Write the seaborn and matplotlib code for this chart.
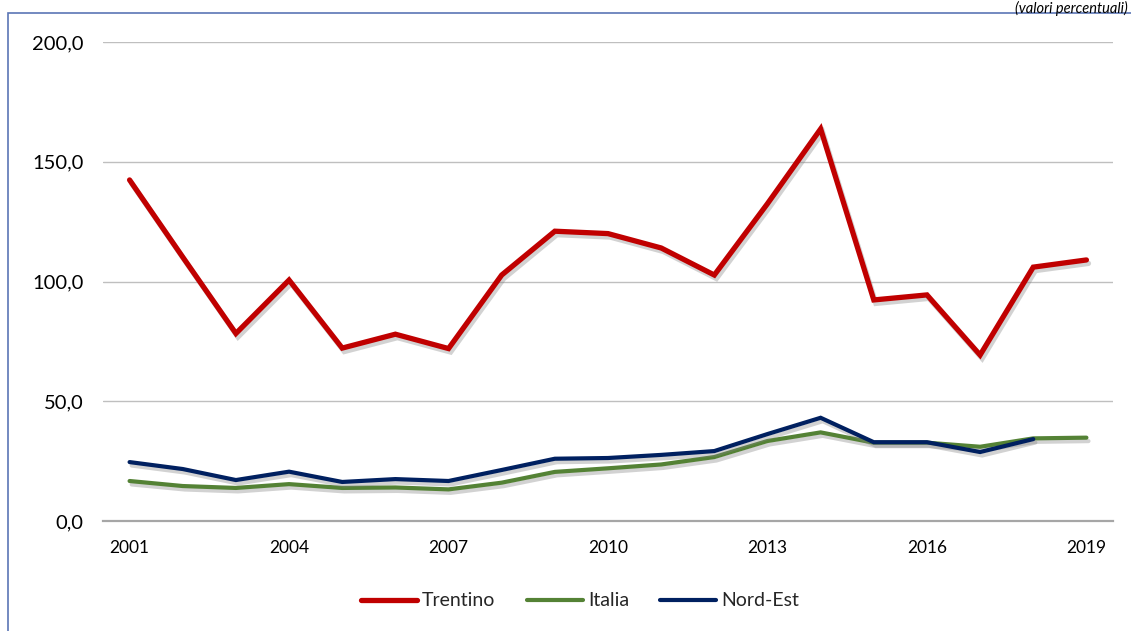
import numpy as np
import pandas as pd
import matplotlib
matplotlib.use("Agg")
import matplotlib.pyplot as plt
import matplotlib.patheffects as pe
from matplotlib.patches import Rectangle
from matplotlib.lines import Line2D
from matplotlib.ticker import FuncFormatter, FixedLocator
import seaborn as sns

years = list(range(2001, 2020))
trentino = [142.4, 110.2, 78.3, 100.6, 72.2, 78.0, 72.0, 102.7, 121.0, 120.0,
            114.0, 102.7, 132.5, 163.7, 92.3, 94.4, 69.3, 106.0, 109.0]
italia = [16.7, 14.6, 13.8, 15.4, 13.8, 14.0, 13.2, 16.0, 20.5, 22.0,
          23.6, 26.7, 33.4, 37.0, 32.7, 32.7, 31.0, 34.5, 34.8]
nord_est = [24.6, 21.7, 17.1, 20.6, 16.3, 17.5, 16.7, 21.3, 26.0, 26.3,
            27.6, 29.2, 36.3, 43.1, 32.9, 32.9, 28.8, 34.2, np.nan]
series_names = ["Trentino", "Italia", "Nord-Est"]
colors = ["#C00000", "#548235", "#002060"]
y_ticks = [0, 50, 100, 150, 200]
x_label_years = [2001, 2004, 2007, 2010, 2013, 2016, 2019]
subtitle = "(valori percentuali)"

df = pd.concat([
    pd.DataFrame({"anno": years, "valore": vals, "serie": name})
    for name, vals in zip(series_names, [trentino, italia, nord_est])
]).dropna()

sns.set_theme(style="white")
plt.rcParams["font.family"] = ["Lato", "DejaVu Sans"]

W, H = 1131, 631
fig = plt.figure(figsize=(W / 100, H / 100), dpi=100)
ax = fig.add_axes([103 / W, 1 - 521 / H, (1113 - 103) / W, (521 - 42) / H])

sns.lineplot(data=df, x="anno", y="valore", hue="serie", hue_order=series_names,
             palette=colors, ax=ax, sort=False, legend=False)

widths = [3.8, 3.0, 3.0]
for line, lw in zip(ax.get_lines(), widths):
    line.set_linewidth(lw)
    line.set_solid_capstyle("round")
    line.set_solid_joinstyle("miter")
    line.set_path_effects([pe.SimpleLineShadow(offset=(1.5, -2.5), shadow_color="#808080", alpha=0.35),
                           pe.Normal()])

ax.set_xlim(2000.5, 2019.5)
ax.set_ylim(0, 200)
ax.set_xlabel("")
ax.set_ylabel("")

ax.yaxis.set_major_locator(FixedLocator(y_ticks))
ax.yaxis.set_major_formatter(FuncFormatter(lambda v, p: f"{v:.1f}".replace(".", ",")))
ax.xaxis.set_major_locator(FixedLocator(x_label_years))
ax.xaxis.set_minor_locator(FixedLocator(np.arange(2000.5, 2020.0, 1.0)))
ax.xaxis.set_major_formatter(FuncFormatter(lambda v, p: f"{int(v)}"))

ax.grid(axis="y", color="#BFBFBF", linewidth=1.0)
ax.grid(axis="x", visible=False)
ax.set_axisbelow(True)
for s in ["top", "right", "left"]:
    ax.spines[s].set_visible(False)
ax.spines["bottom"].set_color("#A6A6A6")
ax.spines["bottom"].set_linewidth(1.6)

ax.tick_params(axis="y", length=0, pad=14, labelsize=14.5, labelcolor="black")
ax.tick_params(axis="x", which="major", length=0, pad=14, labelsize=12.5, labelcolor="black")
ax.tick_params(axis="x", which="minor", length=6, width=1.6, color="#A6A6A6", direction="out")

handles = [Line2D([0], [0], color=c, lw=lw, solid_capstyle="round") for c, lw in zip(colors, widths)]
fig.legend(handles, series_names, loc="center", bbox_to_anchor=(580 / W, 1 - 601 / H),
           ncol=3, frameon=False, fontsize=14, handlelength=2.9, handletextpad=0.25,
           columnspacing=1.6)

# outer frame (cropped by the screenshot)
fig.patches.append(Rectangle((8 / W, -0.5), 2, (1 - 13 / H) + 0.5, transform=fig.transFigure,
                             fill=False, edgecolor="#5B76B5", linewidth=1.2))
fig.text(1128 / W, 1 - 1 / H, subtitle, ha="right", va="top", fontsize=10.5,
         style="italic", color="black")

fig.savefig("out.png", dpi=100)
